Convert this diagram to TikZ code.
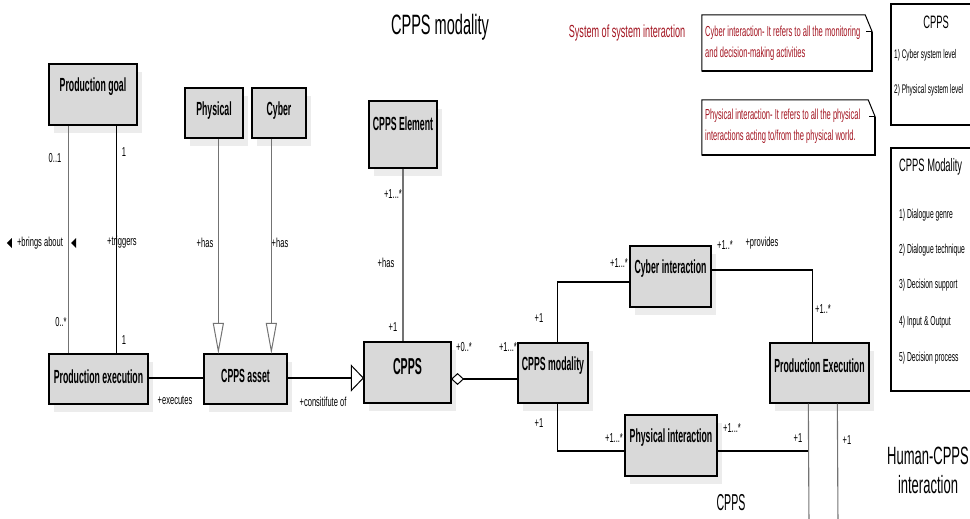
\documentclass[tikz,border=0pt]{standalone}
\usepackage{fontspec}
\setmainfont{Liberation Sans}
\newfontfamily\fA{Liberation Sans}[FakeStretch=0.46]
\newfontfamily\fB{Liberation Sans}[FakeStretch=0.58]
\newfontfamily\fC{Liberation Sans}[FakeStretch=0.52]
\usetikzlibrary{arrows.meta,shadows}
\definecolor{boxfill}{RGB}{217,217,217}
\definecolor{shadowc}{RGB}{236,236,236}
\definecolor{notered}{RGB}{163,21,33}
\definecolor{lgray}{RGB}{115,115,115}
\begin{document}
\begin{tikzpicture}[x=1pt,y=-1pt,
  cls/.style n args={2}{draw=black, line width=1.3pt, fill=boxfill, inner sep=0pt,
     minimum width=#1, minimum height=#2,
     general shadow={fill=shadowc, shadow xshift=5pt, shadow yshift=-8pt}},
  lab/.style={anchor=center, yshift=-23pt, inner sep=0pt, font=\fA\bfseries\fontsize{19}{19}\selectfont},
  bigl/.style={anchor=center, yshift=-25pt, inner sep=0pt, font=\fA\bfseries\fontsize{23}{23}\selectfont},
  t/.style={inner sep=0pt, font=\fB\fontsize{13}{13}\selectfont},
  conn/.style={line width=1.3pt, black},
  gconn/.style={line width=1.1pt, lgray},
  notebox/.style={inner sep=0pt},
  notetext/.style={inner sep=0pt, anchor=west, align=left,
     text=notered, font=\fC\fontsize{14.5}{21}\selectfont},
  noteline/.style={line width=1pt, black},
  rbox/.style={draw=black, line width=1.3pt, inner sep=0pt},
  rt/.style={inner sep=0pt, anchor=west, font=\fC\fontsize{12.5}{12.5}\selectfont},
]
\useasboundingbox (0,0) rectangle (970,519);
\clip (0,0) rectangle (970,519);

% ---------- class boxes ----------
\node[cls={88pt}{61pt}, label={[lab]north:Production goal}] (pg) at (93,94.5) {};
\node[cls={58pt}{50pt}, label={[lab]north:Physical}] (phys) at (214,113) {};
\node[cls={54pt}{50pt}, label={[lab]north:Cyber}] (cyb) at (279,113) {};
\node[cls={99pt}{50pt}, label={[lab]north:Production execution}] (pe) at (98.5,379) {};
\node[cls={83pt}{50pt}, label={[lab]north:CPPS asset}] (asset) at (245.5,379) {};
\node[cls={68pt}{67pt}, label={[lab]north:CPPS Element}] (elem) at (403,134.5) {};
\node[cls={87pt}{61pt}, label={[bigl]north:CPPS}] (cpps) at (407.5,372.5) {};
\node[cls={70pt}{60pt}, label={[lab]north:CPPS modality}] (mod) at (553,373) {};
\node[cls={81pt}{61pt}, label={[lab]north:Cyber interaction}] (ci) at (670.5,276.5) {};
\node[cls={92pt}{61pt}, label={[lab]north:Physical interaction}] (pi) at (671,445.5) {};
\node[cls={99pt}{60pt}, label={[lab]north:Production Execution}] (PE) at (819.5,373) {};

\coordinate (bot1) at (809,525);
\coordinate (bot2) at (838,525);

% ---------- connectors ----------
\draw[gconn] ([xshift=20pt]pg.south west) -- ([xshift=20pt]pe.north west);
\draw[conn, line width=1.1pt] ([xshift=68pt]pg.south west) -- ([xshift=68pt]pe.north west);
\draw[gconn, -{Triangle[open, length=31pt, width=11pt, fill=white, line width=1pt]}, shorten >=-0.6pt]
  ([xshift=34pt]phys.south west) -- ([xshift=15pt]asset.north west);
\draw[gconn, -{Triangle[open, length=31pt, width=11pt, fill=white, line width=1pt]}, shorten >=-0.6pt]
  ([xshift=20pt]cyb.south west) -- ([xshift=68pt]asset.north west);
\draw[conn] ([yshift=1pt]pe.east) -- ([yshift=1pt]asset.west);
\draw[conn, -{Triangle[open, length=13pt, width=27pt, fill=white, line width=1pt]}, shorten >=-0.6pt]
  ([yshift=1pt]asset.east) -- ([yshift=1pt]asset.east -| cpps.west);
\draw[gconn] (elem.south) -- (elem.south |- cpps.north);
\draw[conn, {Diamond[open, length=13pt, width=12pt, fill=white, line width=1pt]}-, shorten <=-0.6pt]
  ([yshift=-6.5pt]cpps.east) -- ([yshift=-6.5pt]cpps.east -| mod.west);
\draw[conn] ([xshift=40pt]mod.north west) |- ([yshift=-5.5pt]ci.west);
\draw[conn] ([yshift=6.5pt]ci.east) -| ([xshift=43pt]PE.north west);
\draw[conn] ([xshift=40pt]mod.south west) |- ([yshift=-5.5pt]pi.west);
\draw[conn] ([yshift=-5.5pt]pi.east) -| ([xshift=39pt]PE.south west);
\draw[gconn] ([xshift=39pt]PE.south west) -- (bot1);
\draw[gconn] ([xshift=68pt]PE.south west) -- (bot2);

% ---------- connector labels ----------
\node[t] (l1) at (55,158) {0..1};
\node[t] (l2) at (124,152) {1};
\node[t] (l3) at (61,322) {0..*};
\node[t] (l4) at (124,340) {1};
\node[t] (ba) at (40,243) {+brings about};
\fill ([xshift=-10pt]ba.west) -- ++(5,-5) -- ++(0,10) -- cycle;
\fill ([xshift=8pt]ba.east) -- ++(5,-5) -- ++(0,10) -- cycle;
\node[t] (l5) at (122,242) {+triggers};
\node[t] (l6) at (205,243) {+has};
\node[t] (l7) at (280,243) {+has};
\node[t] (l8) at (175,400) {+executes};
\node[t] (l9) at (323,402) {+consitifute of};
\node[t] (l10) at (393,194) {+1...*};
\node[t] (l11) at (386,263) {+has};
\node[t] (l12) at (393,327) {+1};
\node[t] (l13) at (464,347) {+0..*};
\node[t] (l14) at (508,347) {+1...*};
\node[t] (l15) at (619,263) {+1...*};
\node[t] (l16) at (725,245) {+1..*};
\node[t] (l17) at (762,243) {+provides};
\node[t] (l18) at (539,318) {+1};
\node[t] (l19) at (823,309) {+1..*};
\node[t] (l20) at (539,423) {+1};
\node[t] (l21) at (614,438) {+1...*};
\node[t] (l22) at (732,428) {+1...*};
\node[t] (l23) at (798,438) {+1};
\node[t] (l24) at (847,440) {+1};
\node[inner sep=0pt, font=\fA\fontsize{23}{23}\selectfont] (cppsb) at (731,503) {CPPS};

% ---------- titles ----------
\node[inner sep=0pt, font=\fC\fontsize{28}{28}\selectfont] (title) at (440,27) {CPPS modality};
\node[inner sep=0pt, text=notered, font=\fC\fontsize{17.5}{17.5}\selectfont] (sos) at (627,33) {System of system interaction};

% ---------- notes ----------
\node[notebox, minimum width=170pt, minimum height=56pt] (n1) at (787,43) {};
\node[notetext] (n1t) at (705,43.5)
  {Cyber interaction- It refers to all the monitoring\\and decision-making activities};
\draw[noteline] (n1.north west) -- ([xshift=-7pt]n1.north east) -- ([yshift=-17pt]n1.north east)
  -- (n1.south east) -- (n1.south west) -- cycle;
\draw[noteline] ([xshift=-6pt,yshift=-17pt]n1.north east) -- ([yshift=-17pt]n1.north east);
\draw[line width=1.6pt] (n1.south west) -- (n1.south east) -- ([yshift=-17pt]n1.north east);

\node[notebox, minimum width=173pt, minimum height=55pt] (n2) at (788.5,127.5) {};
\node[notetext] (n2t) at (705,126.5)
  {Physical interaction- It refers to all the physical\\interactions acting to/from the physical world.};
\draw[noteline] (n2.north west) -- ([xshift=-7pt]n2.north east) -- ([yshift=-17pt]n2.north east)
  -- (n2.south east) -- (n2.south west) -- cycle;
\draw[noteline] ([xshift=-6pt,yshift=-17pt]n2.north east) -- ([yshift=-17pt]n2.north east);
\draw[line width=1.6pt] (n2.south west) -- (n2.south east) -- ([yshift=-17pt]n2.north east);

% ---------- right legend boxes ----------
\node[rbox, minimum width=90pt, minimum height=121pt] (rb1) at (936,64.5) {};
\node[inner sep=0pt, font=\fC\fontsize{18}{18}\selectfont] (rb1t) at (936,22) {CPPS};
\node[rt] (rb1a) at (894,55) {1) Cyber system level};
\node[rt] (rb1b) at (894,90) {2) Physical system level};

\node[rbox, minimum width=90pt, minimum height=243pt] (rb2) at (936,269.5) {};
\node[inner sep=0pt, anchor=west, font=\fC\fontsize{18}{18}\selectfont] (rb2t) at (899,167) {CPPS Modality};
\node[rt, font=\fC\fontsize{13}{13}\selectfont] (rb2a) at (899,215) {1) Dialogue genre};
\node[rt, font=\fC\fontsize{13}{13}\selectfont] (rb2b) at (899,250) {2) Dialogue technique};
\node[rt, font=\fC\fontsize{13}{13}\selectfont] (rb2c) at (899,285) {3) Decision support};
\node[rt, font=\fC\fontsize{13}{13}\selectfont] (rb2d) at (899,322) {4) Input \& Output};
\node[rt, font=\fC\fontsize{13}{13}\selectfont] (rb2e) at (899,358) {5) Decision process};

\node[inner sep=0pt, align=center, font=\fC\fontsize{25}{29}\selectfont] (hci) at (928,470)
  {Human-CPPS\\interaction};
\end{tikzpicture}
\end{document}
